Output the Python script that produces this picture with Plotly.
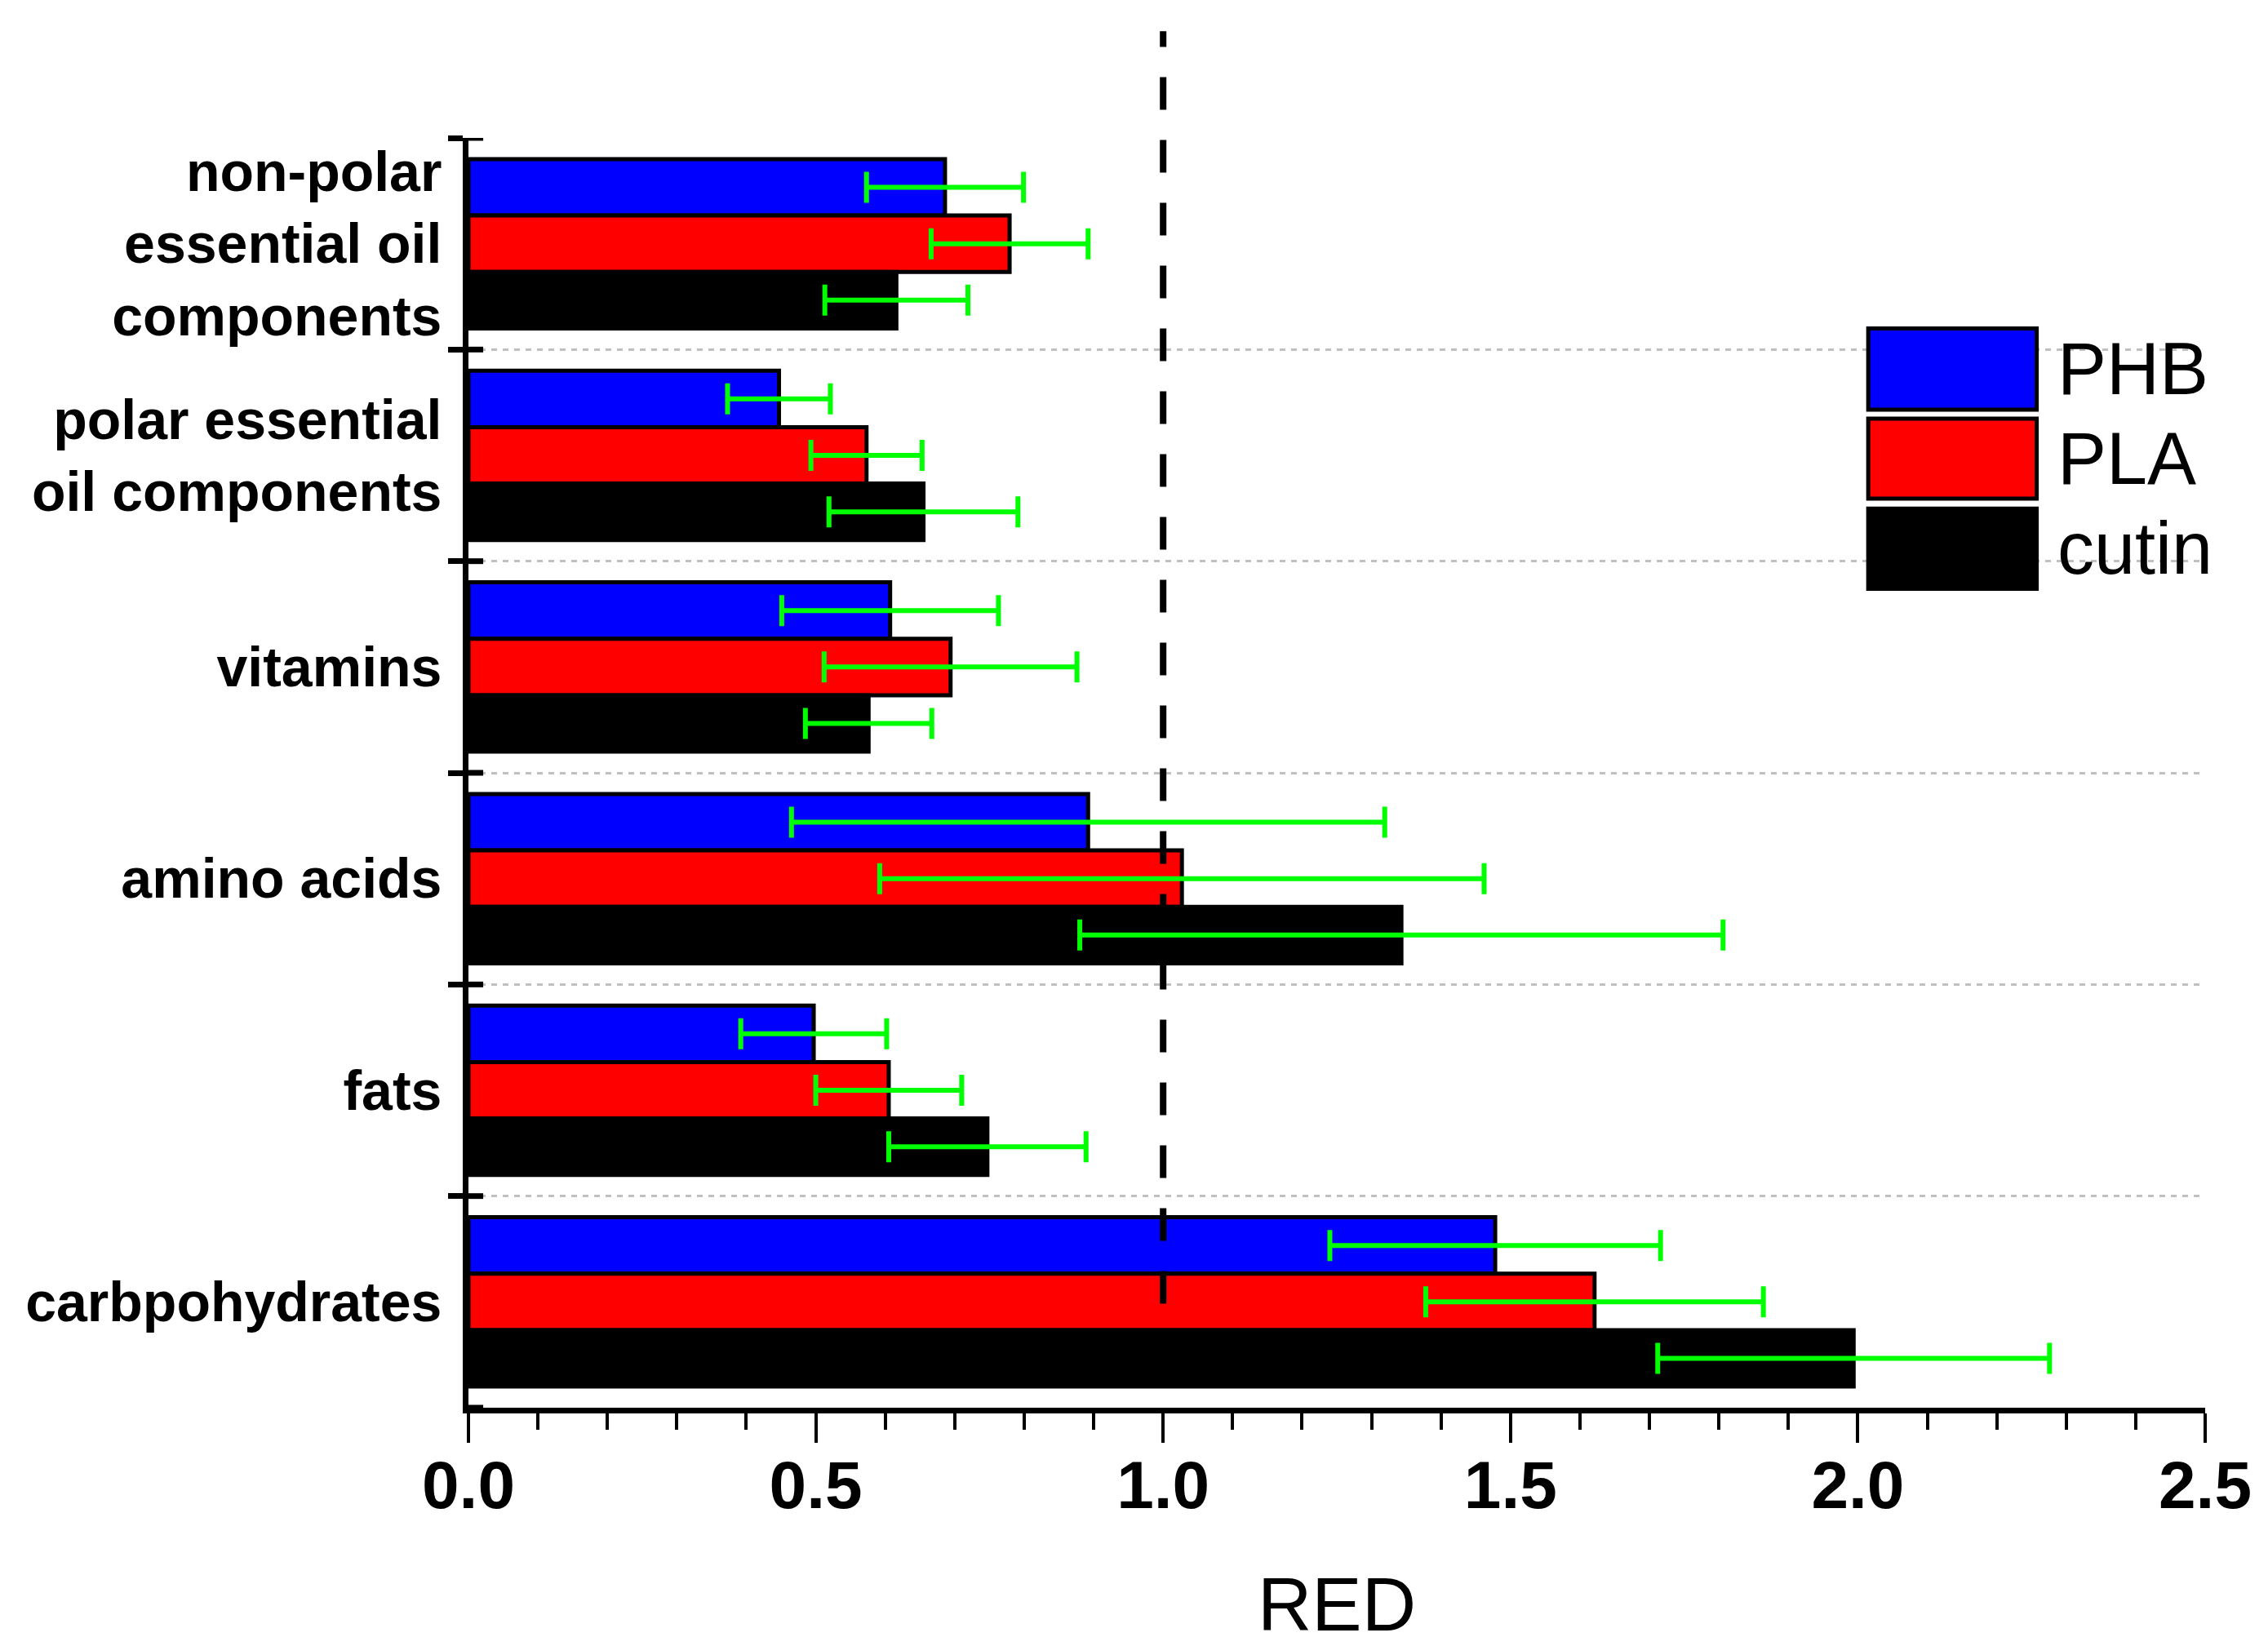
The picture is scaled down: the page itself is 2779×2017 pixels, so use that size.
import plotly.graph_objects as go

categories = [
    "non-polar<br>essential oil<br>components",
    "polar essential<br>oil components",
    "vitamins",
    "amino acids",
    "fats",
    "carbpohydrates",
]
series_names = ["PHB", "PLA", "cutin"]
phb_values = [0.686, 0.447, 0.607, 0.892, 0.497, 1.478]
phb_errors = [0.113, 0.074, 0.156, 0.427, 0.105, 0.238]
pla_values = [0.779, 0.573, 0.694, 1.027, 0.605, 1.621]
pla_errors = [0.113, 0.080, 0.182, 0.435, 0.105, 0.243]
cutin_values = [0.616, 0.655, 0.576, 1.343, 0.747, 1.994]
cutin_errors = [0.103, 0.136, 0.091, 0.463, 0.142, 0.282]
x_tick_values = [0.0, 0.5, 1.0, 1.5, 2.0, 2.5]
x_tick_labels = ["0.0", "0.5", "1.0", "1.5", "2.0", "2.5"]
reference_value = 1.0

colors = ["#0000FF", "#FF0000", "#000000"]
values = [phb_values, pla_values, cutin_values]
errors = [phb_errors, pla_errors, cutin_errors]

W, H = 2779, 2017
ML, MR, MT, MB = 574, 77, 169, 266
FONT = "Liberation Sans, Arial, Helvetica, sans-serif"

fig = go.Figure()
for name, vals, errs, col in zip(series_names, values, errors, colors):
    fig.add_trace(go.Bar(
        name=name, x=vals, y=categories, orientation="h",
        marker=dict(color=col, line=dict(color="black", width=5)),
        error_x=dict(type="data", array=errs, visible=True,
                     color="#00FF00", thickness=6, width=19),
        showlegend=False,
    ))

n = len(categories)
boundaries = [i - 0.5 for i in range(n + 1)]

fig.update_layout(
    width=W, height=H,
    margin=dict(l=ML, r=MR, t=MT, b=MB, pad=0),
    paper_bgcolor="white", plot_bgcolor="white",
    barmode="group", bargap=0.2, bargroupgap=0,
    font=dict(family=FONT, color="black"),
    xaxis=dict(
        range=[0, 2.5], tickvals=x_tick_values, ticktext=x_tick_labels,
        ticks="outside", ticklen=36, tickwidth=4, tickcolor="black",
        minor=dict(dtick=0.1, ticks="outside", ticklen=20, tickwidth=4,
                   tickcolor="black", showgrid=False),
        showline=True, linewidth=7, linecolor="black",
        showgrid=False, zeroline=False,
        tickfont=dict(size=82, family=FONT, weight="bold"),
        ticklabelstandoff=-18,
        title=dict(text="RED", font=dict(size=92, family=FONT), standoff=75),
    ),
    yaxis=dict(
        type="category", categoryorder="array", categoryarray=categories,
        range=[n - 0.5, -0.5], tickson="boundaries",
        ticks="outside", ticklen=18, tickwidth=7, tickcolor="black",
        showline=True, linewidth=7, linecolor="black",
        showgrid=True, gridcolor="#C0C0C0", gridwidth=3, griddash="7px,7px",
        zeroline=False,
        tickfont=dict(size=68, family=FONT, weight="bold"),
        ticklabelstandoff=12,
    ),
)

# inner half of the crossing y tick marks at category boundaries
for b in boundaries:
    fig.add_shape(type="line", xref="paper", yref="y",
                  x0=0, x1=0.0085, y0=b, y1=b,
                  line=dict(color="black", width=7), layer="above")

# vertical dashed reference line at RED = 1
fig.add_shape(type="line", xref="x", yref="paper",
              x0=reference_value, x1=reference_value, y0=0.082, y1=1.084,
              line=dict(color="black", width=8, dash="40px,37px"), layer="above")

# custom legend with large swatches
legend_rows = [(0.850, 0.786), (0.779, 0.716), (0.708, 0.645)]
for name, col, (ytop, ybot) in zip(series_names, colors, legend_rows):
    fig.add_shape(type="rect", xref="paper", yref="paper",
                  x0=0.806, x1=0.903, y0=ybot, y1=ytop,
                  fillcolor=col, line=dict(color="black", width=5), layer="above")
    fig.add_annotation(xref="paper", yref="paper", x=0.914, y=(ytop + ybot) / 2,
                       text=name, showarrow=False, xanchor="left", yanchor="middle",
                       font=dict(size=90, family=FONT, color="black"))

fig.write_html("out.html", config={"displayModeBar": False},
               post_script="document.body.style.margin='0';document.body.style.overflow='hidden';")
